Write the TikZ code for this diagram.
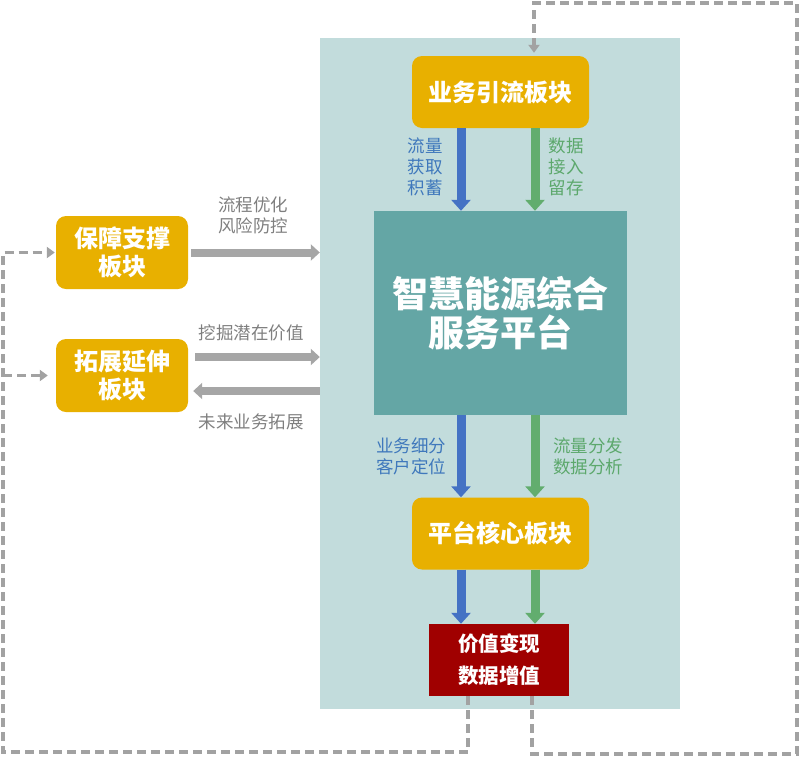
\documentclass[tikz,border=0pt]{standalone}
\usepackage{fontspec}
\setmainfont{Noto Sans CJK SC}
\usetikzlibrary{arrows.meta}

\definecolor{panelbg}{HTML}{C2DCDC}
\definecolor{hubteal}{HTML}{64A6A5}
\definecolor{blockgold}{HTML}{E8B000}
\definecolor{valuered}{HTML}{A00000}
\definecolor{flowblue}{HTML}{4472C4}
\definecolor{datagreen}{HTML}{62AD6E}
\definecolor{linkgray}{HTML}{A6A6A6}
\definecolor{loopgray}{HTML}{A2A2A2}
\definecolor{labelgray}{HTML}{7F7F7F}
\definecolor{labelblue}{HTML}{3F78BC}
\definecolor{labelgreen}{HTML}{5CA86C}

\tikzset{
  panel/.style={fill=panelbg, minimum width=360pt, minimum height=671pt, inner sep=0pt},
  block/.style={fill=blockgold, rounded corners=10pt, text=white, align=center,
    font=\bfseries\fontsize{24}{28}\selectfont, minimum width=177pt, minimum height=72pt, inner sep=0pt},
  sideblock/.style={block, minimum width=132pt, minimum height=73pt},
  hub/.style={fill=hubteal, text=white, align=center, font=\bfseries\fontsize{36}{39}\selectfont,
    minimum width=253pt, minimum height=204pt, inner sep=0pt},
  valuebox/.style={fill=valuered, text=white, align=center, font=\bfseries\fontsize{20.5}{32}\selectfont,
    minimum width=140pt, minimum height=72pt, inner sep=0pt},
  bluearrow/.style={draw=flowblue, line width=9pt, -{Triangle[width=19pt,length=11pt]}},
  greenarrow/.style={draw=datagreen, line width=9pt, -{Triangle[width=19pt,length=11pt]}},
  grayarrow/.style={draw=linkgray, line width=8pt, -{Triangle[width=16pt,length=9pt]}},
  loopline/.style={draw=loopgray, line width=3.8pt, dash pattern=on 9pt off 5pt},
  looparrow/.style={loopline, -{Triangle[width=11pt,length=8pt]}},
  graylabel/.style={text=labelgray, align=center, font=\fontsize{17.5}{21}\selectfont},
  bluelabel/.style={text=labelblue, align=center, font=\fontsize{17.5}{21}\selectfont},
  greenlabel/.style={text=labelgreen, align=center, font=\fontsize{17.5}{21}\selectfont}
}

\begin{document}
\begin{tikzpicture}[x=1pt,y=-1pt]
  \useasboundingbox (0,0) rectangle (800,756);

  % light panel behind the platform column
  \node[panel] (panel) at (500,373.5) {};

  % blocks, hub and value box
  \node[block] (flow) at (500.5,92) {业务引流板块};
  \node[hub] (hub) at (500.5,313) {智慧能源综合\\服务平台};
  \node[block] (core) at (500.5,533.5) {平台核心板块};
  \node[valuebox] (value) at (499,660) {价值变现\\数据增值};
  \node[sideblock] (guard) at (122,252.5) {保障支撑\\板块};
  \node[sideblock] (expand) at (122,375.5) {拓展延伸\\板块};

  % x positions of the two vertical streams
  \coordinate (bx) at (461,0);
  \coordinate (gx) at (535,0);

  % streams down the middle column
  \draw[bluearrow] (flow.south -| bx) -- (hub.north -| bx);
  \draw[greenarrow] (flow.south -| gx) -- (hub.north -| gx);
  \draw[bluearrow] (hub.south -| bx) -- (core.north -| bx);
  \draw[greenarrow] (hub.south -| gx) -- (core.north -| gx);
  \draw[bluearrow] (core.south -| bx) -- (value.north -| bx);
  \draw[greenarrow] (core.south -| gx) -- (value.north -| gx);

  % stream labels
  \node[bluelabel] (getLabel) at (425,167) {流量\\获取\\积蓄};
  \node[greenlabel] (keepLabel) at (566,167) {数据\\接入\\留存};
  \node[bluelabel] (segLabel) at (411,456) {业务细分\\客户定位};
  \node[greenlabel] (splitLabel) at (588,456) {流量分发\\数据分析};

  % side blocks to and from the panel
  \draw[grayarrow, shorten <=3pt] (guard.east) -- (guard.east -| panel.west);
  \path ([yshift=18.5pt]expand.east) coordinate (mineA);
  \path ([yshift=-15.5pt]expand.east) coordinate (futureA);
  \draw[grayarrow, shorten <=7pt] (mineA) -- (mineA -| panel.west);
  \draw[grayarrow, shorten >=5pt] (futureA -| panel.west) -- (futureA);

  \node[graylabel] (optLabel) at (253,215) {流程优化\\风险防控};
  \node[graylabel] (mineLabel) at (251,333) {挖掘潜在价值};
  \node[graylabel] (futureLabel) at (251,422) {未来业务拓展};

  % dashed feedback loops from the value box
  \coordinate (d1) at (468,752);
  \coordinate (d2) at (3,752);
  \coordinate (d3) at (3,252.5);
  \coordinate (d4) at (3,375.5);
  \draw[looparrow, shorten >=1pt] (value.south -| d1) -- (d1) -- (d2) -- (d3) -- (guard.west);
  \draw[looparrow, shorten >=8pt] (d4) -- (expand.west);

  \coordinate (e1) at (532,754);
  \coordinate (e2) at (797,754);
  \coordinate (e3) at (797,3);
  \coordinate (e4) at (534,3);
  \draw[looparrow, shorten >=3pt] (value.south -| e1) -- (e1) -- (e2) -- (e3) -- (e4) -- (flow.north -| e4);

\end{tikzpicture}
\end{document}
